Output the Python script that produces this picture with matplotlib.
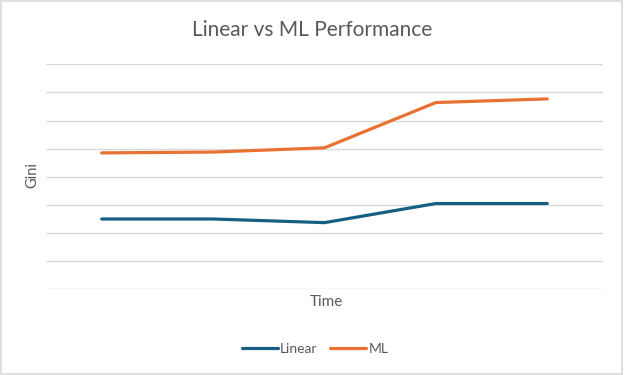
import matplotlib.pyplot as plt
import numpy as np

# values (y axis has no labels, scale 0..0.8)
periods = ["P1", "P2", "P3", "P4", "P5"]
linear_gini = [0.250, 0.250, 0.237, 0.305, 0.305]
ml_gini = [0.485, 0.488, 0.503, 0.664, 0.677]

grey = "#595959"
plt.rcParams['font.family'] = ['Lato', 'DejaVu Sans']

fig = plt.figure(figsize=(6.24, 3.75), dpi=100)
ax = fig.add_axes([46 / 624, 1 - 289.3 / 375, 557 / 624, 225 / 375])

x = np.arange(len(periods))
ax.plot(x, linear_gini, color="#156082", lw=2.3, solid_capstyle="round",
        solid_joinstyle="round", label="Linear")
ax.plot(x, ml_gini, color="#E97132", lw=2.3, solid_capstyle="round",
        solid_joinstyle="round", label="ML")

ax.set_xlim(-0.5, len(periods) - 0.5)
ax.set_ylim(0, 0.8)
ax.set_yticks(np.arange(0, 0.81, 0.1))
ax.yaxis.grid(True, color="#D9D9D9", lw=1.0)
ax.set_axisbelow(True)
ax.tick_params(length=0, labelleft=False, labelbottom=False)
for s in ax.spines.values():
    s.set_visible(False)

fig.text(0.5, 1 - 30 / 375, "Linear vs ML Performance", ha="center", va="center",
         fontsize=15, color=grey)
fig.text(32 / 624, 1 - 175 / 375, "Gini", rotation=90, ha="center", va="center",
         fontsize=10.5, color=grey)
fig.text(326 / 624, 1 - 302 / 375, "Time", ha="center", va="center",
         fontsize=11, color=grey)

fig.legend(loc="center", bbox_to_anchor=(315 / 624, 1 - 349 / 375), ncol=2,
           frameon=False, fontsize=10, labelcolor=grey, handlelength=2.6,
           handletextpad=0.15, columnspacing=0.9)

# thin light border round the chart area
fig.patches.append(plt.Rectangle((0.002, 0.003), 0.995, 0.994, transform=fig.transFigure,
                                 fill=False, edgecolor="#D9D9D9", lw=1.2))

fig.savefig("out.png", dpi=100)
